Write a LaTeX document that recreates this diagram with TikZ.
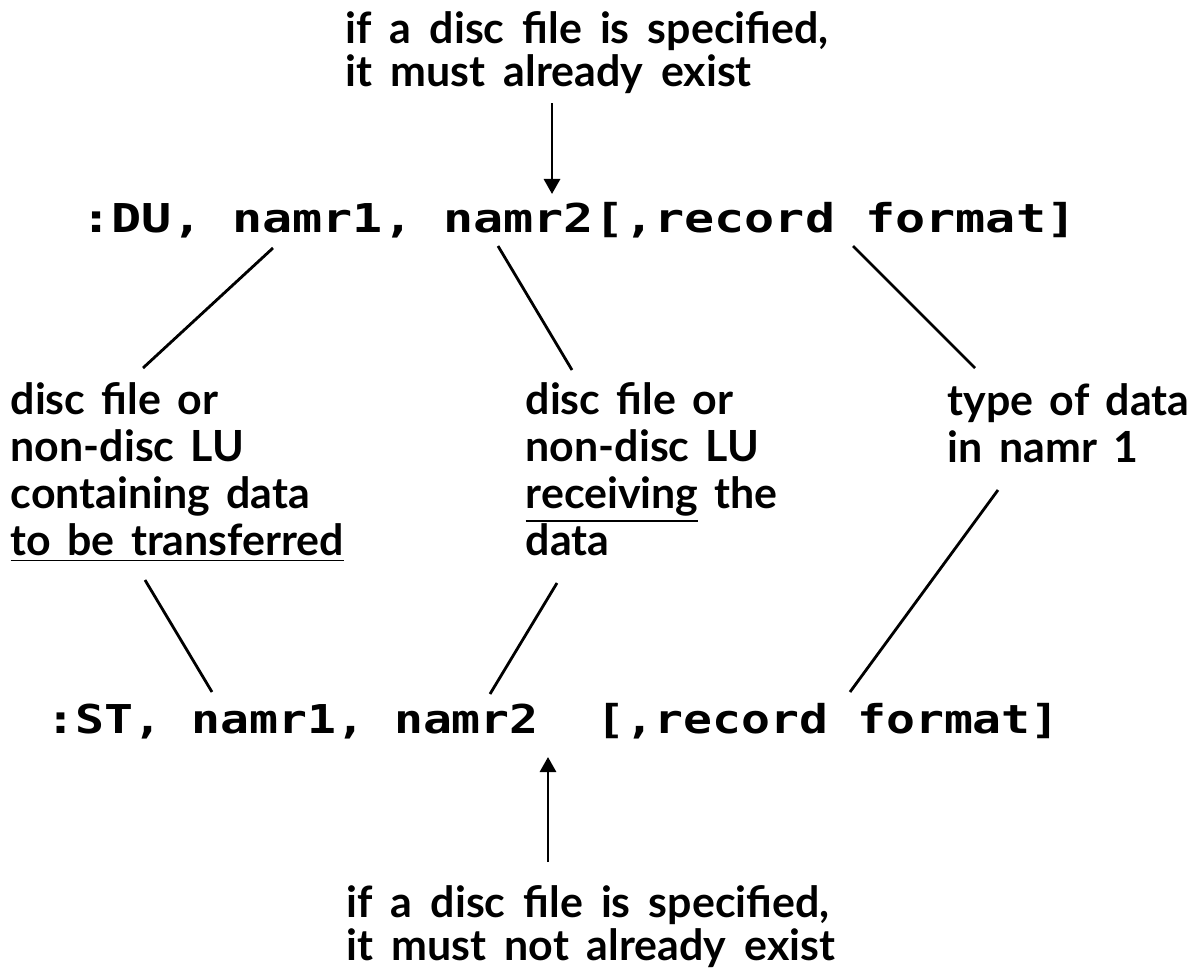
\documentclass[tikz,border=0pt]{standalone}
\usepackage{fontspec}
\setmainfont{Lato}
\newfontfamily\cmdfont[FakeStretch=1.26]{DejaVu Sans Mono}
\newfontfamily\cmdfontnarrow[FakeStretch=1.21]{DejaVu Sans Mono}
\usetikzlibrary{arrows.meta}
\newcommand{\lblfont}{\fontsize{12.2pt}{13.3pt}\selectfont\bfseries\spaceskip=0.38em plus 0.1em}
\newcommand{\notefont}{\fontsize{12.2pt}{12.2pt}\selectfont\bfseries\spaceskip=0.42em plus 0.1em}

\begin{document}
\begin{tikzpicture}[x=0.01cm,y=-0.01cm,
    lbl/.style={font=\lblfont, align=left, anchor=base west, inner sep=0pt},
    note/.style={font=\notefont, align=left, anchor=base west, inner sep=0pt},
    cmd/.style={font=\fontsize{11.3pt}{13pt}\selectfont\cmdfont\bfseries, anchor=base west, inner sep=0pt},
    cmdnarrow/.style={cmd, font=\fontsize{11.3pt}{13pt}\selectfont\cmdfontnarrow\bfseries},
    lead/.style={line width=0.8pt},
    ptr/.style={line width=0.8pt, -{Triangle[length=4.3pt,width=4.6pt]}}]
    \useasboundingbox (0,0) rectangle (1190,972);

    % Command lines
    \node[cmd] (du) at (81,232) {:DU, namr1, namr2[,record format]};
    \node[cmdnarrow] (st) at (46,733) {:ST, namr1, namr2~~[,record format]};

    % Notes on namr2 (placed at the baseline of the last line)
    \node[note] (mustexist) at (345,86) {if a disc file is specified,\\it must already exist};
    \node[note] (mustnot) at (346,960) {if a disc file is specified,\\it must not already exist};

    % Parameter labels
    \node[lbl] (srclbl) at (10,555) {disc file or\\non-disc LU\\containing data\\\underline{to be transferred}};
    \node[lbl] (dstlbl) at (525,555) {disc file or\\non-disc LU\\\underline{receiving} the\\data};
    \node[lbl] (fmtlbl) at (947,462) {type of data\\in namr 1};

    % End points of the leaders
    \coordinate (du1) at (273,248);
    \coordinate (du2) at (498,246);
    \coordinate (du3) at (853,246);
    \coordinate (src1) at (143,368);
    \coordinate (dst1) at (572,370);
    \coordinate (fmt1) at (975,368);
    \coordinate (src2) at (145,580);
    \coordinate (dst2) at (557,583);
    \coordinate (fmt2) at (998,490);
    \coordinate (st1) at (212,692);
    \coordinate (st2) at (490,694);
    \coordinate (st3) at (850,692);
    \coordinate (top1) at (552,103);
    \coordinate (top2) at (552,194);
    \coordinate (bot1) at (548,862);
    \coordinate (bot2) at (548,757);

    % Leaders
    \draw[lead] (du1) -- (src1);
    \draw[lead] (du2) -- (dst1);
    \draw[lead] (du3) -- (fmt1);
    \draw[lead] (src2) -- (st1);
    \draw[lead] (dst2) -- (st2);
    \draw[lead] (fmt2) -- (st3);

    % Arrows
    \draw[ptr] (top1) -- (top2);
    \draw[ptr] (bot1) -- (bot2);
\end{tikzpicture}
\end{document}
